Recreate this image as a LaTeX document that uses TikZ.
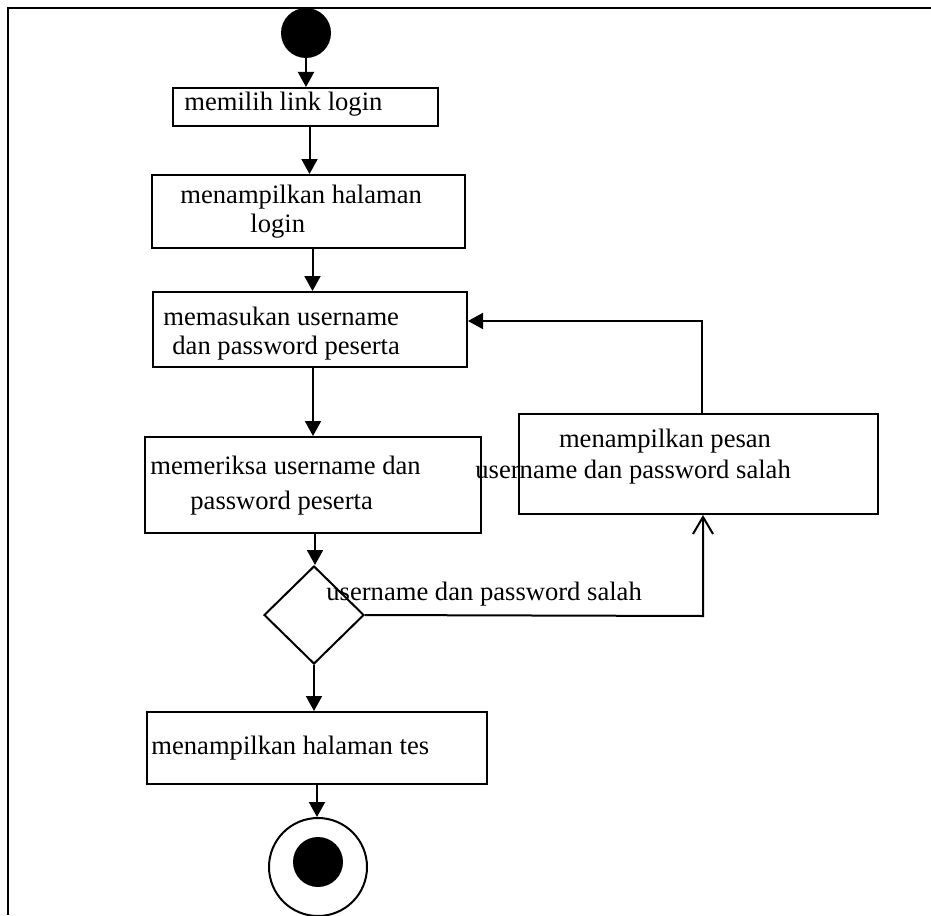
\documentclass[tikz,border=0pt]{standalone}
\usepackage{fontspec}
\setmainfont{Liberation Serif}
\usetikzlibrary{arrows.meta,shapes.geometric}
\begin{document}
\begin{tikzpicture}[x=0.5pt,y=-0.5pt,
  every node/.style={font=\fontsize{13.3}{15.5}\selectfont},
  act/.style={draw,line width=1pt,rectangle,inner sep=0pt},
  lbl/.style={anchor=base west,inner sep=0pt},
  flow/.style={line width=1pt,-{Triangle[length=7.5pt,width=8pt]}},
  back/.style={line width=1pt,-{Straight Barb[length=8.5pt,width=10pt,line width=1pt]}}]
\useasboundingbox (0,0) rectangle (931,915);
% page frame (top and left edges only)
\draw[line width=1.25pt] (931,8) -- (8,8) -- (8,915);

% start and end states
\node[circle,fill=black,inner sep=0pt,minimum size=25pt] (start) at (306,33) {};
\node[circle,draw,line width=1pt,inner sep=0pt,minimum size=49pt] (endo) at (318,867) {};
\node[circle,fill=black,inner sep=0pt,minimum size=25pt] (endi) at (318,862) {};

% activities
\node[act,minimum width=132.5pt,minimum height=19pt] (b1) at (305.5,107) {};
\node[act,minimum width=156.5pt,minimum height=36.5pt] (b2) at (308.5,211.5) {};
\node[act,minimum width=157pt,minimum height=37.5pt] (b3) at (310,329.5) {};
\node[act,minimum width=168pt,minimum height=48pt] (b4) at (313,485) {};
\node[act,minimum width=179.5pt,minimum height=50pt] (b5) at (698.5,464) {};
\node[act,minimum width=170pt,minimum height=36pt] (b6) at (317,748) {};
\node[diamond,draw,line width=1pt,inner sep=0pt,minimum width=50pt,minimum height=49pt] (dec) at (314,615) {};

% activity texts
\node[lbl] (t1) at (184,111) {memilih link login};
\node[lbl] (t2a) at (180,203) {menampilkan halaman};
\node[lbl] (t2b) at (250,232) {login};
\node[lbl] (t3a) at (163,325) {memasukan username};
\node[lbl] (t3b) at (172,354) {dan password peserta};
\node[lbl] (t4a) at (150,474) {memeriksa username dan};
\node[lbl] (t4b) at (190,509) {password peserta};
\node[anchor=base,inner sep=0pt] (t5a) at (665,447) {menampilkan pesan};
\node[lbl] (t5b) at (475,478) {username dan password salah};
\node[lbl] (t6) at (151,754) {menampilkan halaman tes};
\node[lbl] (guard) at (326,600) {username dan password salah};

% flow
\draw[flow] (start) -- (start |- b1.north);
\draw[flow] ([xshift=2pt]b1.south) -- ([xshift=2pt]b1.south |- b2.north);
\draw[flow] ([xshift=2pt]b2.south) -- ([xshift=2pt]b2.south |- b3.north);
\draw[flow] ([xshift=1.5pt]b3.south) -- ([xshift=1.5pt]b3.south |- b4.north);
\draw[flow] ([xshift=1pt]b4.south) -- ([xshift=1pt]b4.south |- dec.north);
\draw[flow] (dec.south) -- (dec.south |- b6.north);
\draw[flow] (b6.south) -- (b6.south |- endo.north);

% failure branch and loop back
\coordinate (cr) at (703,616);
\coordinate (cu) at (702,321);
\draw[back] (dec.east) -- (cr) -- (cr |- b5.south);
\draw[flow] (b5.north -| cu) -- (cu) -- (cu -| b3.east);
\end{tikzpicture}
\end{document}
